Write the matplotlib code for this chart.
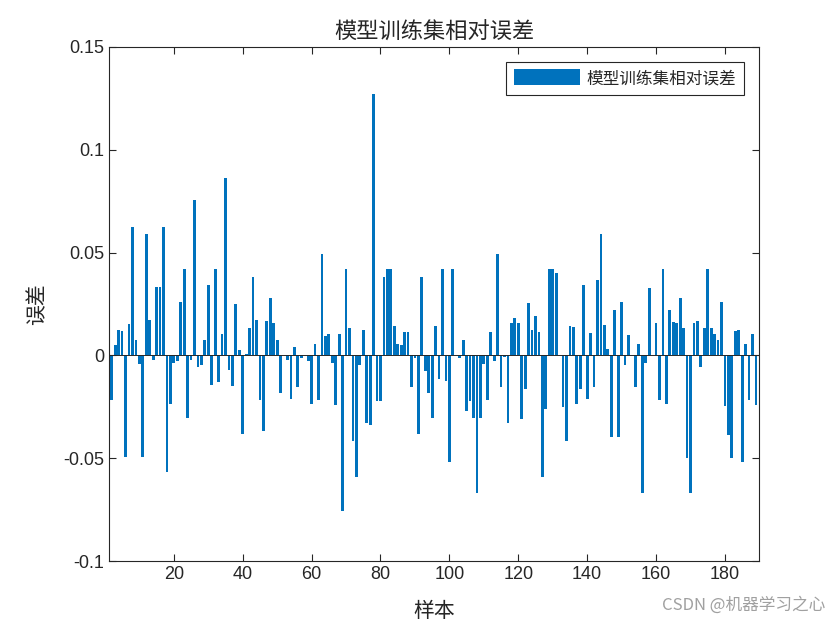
#!/usr/bin/env python3

import numpy as np
import matplotlib.pyplot as plt

plt.rcParams['font.family'] = ['Liberation Sans', 'Noto Sans CJK SC', 'DejaVu Sans']

title = '模型训练集相对误差'
xlabel = '样本'
ylabel = '误差'

# relative error per sample
errors = [
    0.0066, -0.0216, 0.0051, 0.0126, 0.0118, -0.0492, 0.0151, 0.0626, 0.0077, -0.0044,
    -0.0492, 0.0590, 0.0170, -0.0020, 0.0334, 0.0334, 0.0626, -0.0566, -0.0238, -0.0036,
    -0.0025, 0.0262, 0.0421, -0.0303, -0.0020, 0.0754, -0.0057, -0.0048, 0.0077, 0.0343,
    -0.0146, 0.0421, -0.0130, 0.0102, 0.0862, -0.0069, -0.0151, 0.0252, 0.0028, -0.0380,
    0.0005, 0.0134, 0.0380, 0.0174, -0.0216, -0.0369, 0.0167, 0.0277, 0.0156, 0.0077,
    -0.0184, 0.0003, -0.0020, -0.0211, 0.0043, -0.0156, -0.0011, 0.0002, -0.0025, -0.0238,
    0.0054, -0.0216, 0.0492, 0.0093, 0.0102, -0.0036, -0.0241, 0.0102, -0.0757, 0.0421,
    0.0133, -0.0418, -0.0593, -0.0049, 0.0125, -0.0328, -0.0339, 0.1272, -0.0221, -0.0221,
    0.0380, 0.0421, 0.0421, 0.0144, 0.0054, 0.0051, 0.0116, 0.0116, -0.0156, -0.0011,
    -0.0380, 0.0380, -0.0077, -0.0184, -0.0302, 0.0144, -0.0115, 0.0418, -0.0126, -0.0520,
    0.0421, 0.0002, -0.0011, 0.0075, -0.0270, -0.0221, -0.0302, -0.0667, -0.0302, -0.0044,
    -0.0216, 0.0116, -0.0025, 0.0492, -0.0156, -0.0008, -0.0328, 0.0156, 0.0184, 0.0156,
    -0.0307, -0.0162, 0.0254, 0.0123, 0.0193, 0.0116, -0.0593, -0.0261, 0.0421, 0.0421,
    0.0403, 0.0002, -0.0249, -0.0418, 0.0144, 0.0139, -0.0238, -0.0162, 0.0343, -0.0211,
    0.0110, -0.0156, 0.0369, 0.0590, 0.0149, 0.0030, -0.0397, 0.0220, -0.0397, 0.0262,
    -0.0048, 0.0100, 0.0002, -0.0156, 0.0057, -0.0667, -0.0036, 0.0328, 0.0002, 0.0156,
    -0.0216, 0.0421, -0.0238, 0.0220, 0.0161, 0.0156, 0.0277, 0.0134, -0.0500, -0.0667,
    0.0159, 0.0169, -0.0056, 0.0134, 0.0421, 0.0133, 0.0102, 0.0075, 0.0262, -0.0244,
    -0.0389, -0.0500, 0.0118, 0.0123, -0.0520, 0.0054, -0.0216, 0.0102, -0.0241,
]

xticks = [20, 40, 60, 80, 100, 120, 140, 160, 180]
yticks = [-0.1, -0.05, 0, 0.05, 0.1, 0.15]
ytick_labels = ['-0.1', '-0.05', '0', '0.05', '0.1', '0.15']

samples = np.arange(1, len(errors) + 1)
axcol = '#262626'

fig = plt.figure(figsize=(8.4, 6.3), dpi=100)
ax = fig.add_axes([0.1298, 0.1095, 0.9036 - 0.1298, 0.9254 - 0.1095])

ax.bar(samples, errors, width=0.8, color='#0072BD', label=title)
ax.axhline(0, color=axcol, lw=0.7)

ax.set_xlim(1.2, 189.9)
ax.set_ylim(-0.1, 0.15)
ax.set_xticks(xticks)
ax.set_yticks(yticks)
ax.set_yticklabels(ytick_labels)
ax.tick_params(direction='in', top=True, right=True, labelsize=13, length=5, width=0.8,
               color=axcol, labelcolor=axcol)
for s in ax.spines.values():
    s.set_linewidth(0.8)
    s.set_color(axcol)

ax.set_title(title, fontsize=16, family=['Noto Sans CJK SC'], pad=6, color=axcol)
ax.set_xlabel(xlabel, fontsize=15, family=['Noto Sans CJK SC'], labelpad=12, color=axcol)
ax.set_ylabel(ylabel, fontsize=15, family=['Noto Sans CJK SC'], labelpad=11, color=axcol)

leg = ax.legend(loc='upper right', prop={'family': 'Noto Sans CJK SC', 'size': 12},
                fancybox=False, edgecolor=axcol, framealpha=1,
                handlelength=4.0, handleheight=1.1, borderpad=0.45,
                handletextpad=0.4, borderaxespad=0.9)
leg.get_frame().set_linewidth(0.8)
for t in leg.get_texts():
    t.set_color(axcol)

fig.text(0.982, 0.025, 'CSDN @机器学习之心', ha='right', va='bottom', fontsize=12,
         color='#a0a0a0', family=['Noto Sans CJK SC', 'DejaVu Sans'])

fig.savefig('out.png', dpi=100)
